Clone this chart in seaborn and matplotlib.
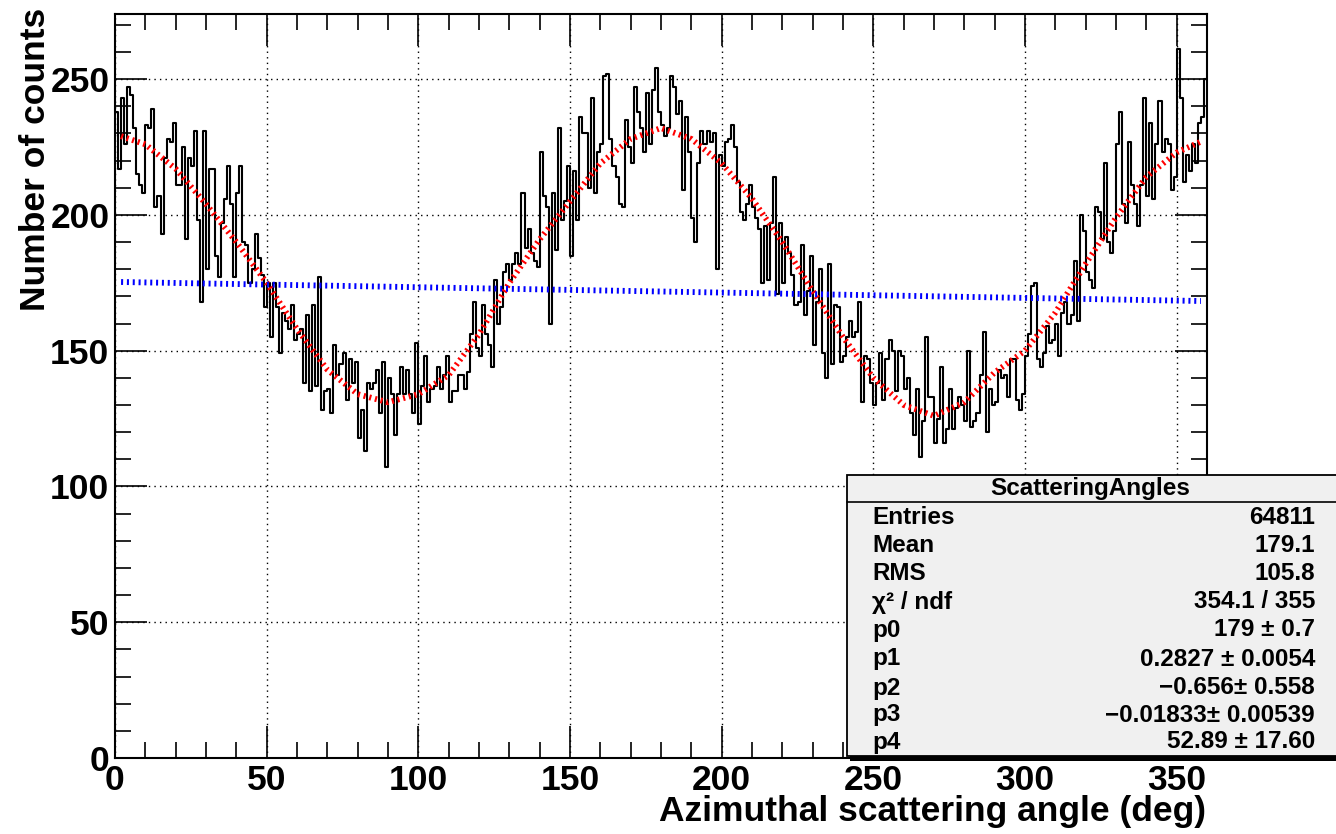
import numpy as np
import pandas as pd
import matplotlib
matplotlib.use("Agg")
import matplotlib.pyplot as plt
from matplotlib.patches import Rectangle
from matplotlib.lines import Line2D
from matplotlib.ticker import MultipleLocator
import seaborn as sns

# ---------------- data ----------------
counts = [
    238, 217, 243, 226, 247, 244, 232, 215, 211, 208,
    233, 232, 239, 203, 207, 193, 221, 228, 227, 234,
    211, 211, 225, 191, 221, 218, 231, 198, 168, 231,
    180, 217, 217, 185, 177, 197, 206, 218, 204, 177,
    208, 218, 190, 189, 175, 180, 193, 184, 178, 166,
    175, 155, 175, 166, 149, 164, 161, 158, 167, 154,
    156, 158, 138, 163, 135, 167, 137, 177, 128, 135,
    136, 127, 152, 141, 145, 149, 132, 147, 138, 146,
    118, 128, 113, 138, 136, 138, 143, 127, 146, 107,
    140, 134, 119, 134, 144, 134, 143, 134, 127, 153,
    123, 137, 148, 131, 136, 137, 144, 136, 141, 148,
    131, 135, 135, 141, 141, 136, 142, 156, 168, 151,
    148, 167, 156, 152, 144, 176, 160, 166, 179, 182,
    176, 182, 186, 182, 208, 188, 195, 186, 183, 181,
    223, 207, 203, 160, 208, 187, 232, 198, 205, 218,
    185, 216, 198, 236, 230, 230, 210, 243, 208, 223,
    226, 251, 252, 228, 218, 214, 204, 203, 235, 225,
    219, 247, 238, 232, 223, 245, 226, 246, 254, 238,
    233, 229, 232, 251, 247, 237, 242, 209, 236, 223,
    199, 190, 219, 231, 226, 231, 227, 230, 180, 222,
    218, 227, 228, 233, 225, 212, 201, 198, 204, 211,
    203, 199, 195, 175, 196, 176, 197, 214, 171, 197,
    175, 192, 186, 178, 167, 168, 189, 163, 172, 185,
    152, 168, 180, 149, 140, 182, 145, 167, 166, 146,
    148, 155, 161, 155, 157, 168, 131, 148, 147, 138,
    130, 138, 149, 132, 147, 154, 150, 135, 150, 148,
    136, 140, 127, 119, 136, 111, 124, 155, 133, 133,
    116, 125, 144, 116, 121, 136, 121, 129, 133, 130,
    124, 150, 122, 124, 127, 141, 157, 120, 136, 130,
    131, 143, 140, 141, 133, 147, 147, 132, 128, 134,
    148, 156, 174, 175, 147, 144, 149, 159, 153, 154,
    160, 148, 164, 168, 160, 163, 183, 161, 200, 194,
    179, 176, 173, 203, 201, 191, 219, 190, 186, 194,
    226, 238, 204, 197, 227, 211, 204, 196, 211, 243,
    207, 234, 206, 226, 242, 223, 228, 226, 209, 214,
    261, 243, 212, 222, 216, 226, 219, 234, 236, 250,
]
bin_lo, bin_hi, bin_w = 0, 360, 1

fit_angle = [2, 10, 20, 30, 40, 50, 60, 70, 80, 90, 100, 110, 120, 130, 140,
             150, 160, 170, 180, 190, 200, 210, 220, 230, 240, 250, 260, 270,
             280, 290, 300, 310, 320, 330, 340, 350, 358]
fit_value = [229, 226, 217, 204, 190, 175, 158, 143, 134, 131, 134, 141, 156,
             175, 191, 205, 219, 228, 232, 228, 219, 206, 190, 172, 155, 140,
             130, 126, 131, 142, 150, 164, 182, 199, 214, 223, 227]

flat_angle = [2, 358]
flat_value = [175.3, 168.3]

stat_labels = ["Entries", "Mean", "RMS", "\u03c7\u00b2 / ndf", "p0", "p1", "p2", "p3", "p4"]
stat_values = ["64811", "179.1", "105.8", "354.1 / 355", "179 \u00b1 0.7",
               "0.2827 \u00b1 0.0054", "\u22120.656\u00b1 0.558",
               "\u22120.01833\u00b1 0.00539", "52.89 \u00b1 17.60"]
stat_title = "ScatteringAngles"

# ---------------- style ----------------
sns.set_theme(style="white")
plt.rcParams["font.family"] = ["Liberation Sans", "DejaVu Sans"]
plt.rcParams["font.weight"] = "bold"
plt.rcParams["text.color"] = "black"
plt.rcParams["axes.labelcolor"] = "black"
plt.rcParams["xtick.color"] = "black"
plt.rcParams["ytick.color"] = "black"

W, H = 1336, 834
fig = plt.figure(figsize=(W / 100, H / 100), dpi=100)
fig.patch.set_facecolor("white")
L, R, T, B = 115, 1207, 14, 758
ax = fig.add_axes([L / W, 1 - B / H, (R - L) / W, (B - T) / H])
ax.set_facecolor("white")

def fx(px):
    return px / W

def fy(py):
    return 1 - py / H

centers = np.arange(bin_lo, bin_hi, bin_w) + bin_w / 2
df = pd.DataFrame({"angle": centers, "n": counts})
sns.histplot(data=df, x="angle", weights="n", binwidth=bin_w,
             binrange=(bin_lo, bin_hi), element="step",
             fill=False, color="black", linewidth=1.5, ax=ax, zorder=3)

dot = (0, (0.35, 0.65))
sns.lineplot(x=fit_angle, y=fit_value, color="#ff0000", linewidth=4.2,
             ax=ax, zorder=4, sort=False)
sns.lineplot(x=flat_angle, y=flat_value, color="#0000ff", linewidth=4.2,
             ax=ax, zorder=4, sort=False)
for ln in ax.lines[-2:]:
    ln.set_linestyle(dot)
    ln.set_dash_capstyle("butt")

ax.set_xlim(0, 360)
ax.set_ylim(0, 274)
ax.xaxis.set_major_locator(MultipleLocator(50))
ax.xaxis.set_minor_locator(MultipleLocator(10))
ax.yaxis.set_major_locator(MultipleLocator(50))
ax.yaxis.set_minor_locator(MultipleLocator(10))
ax.grid(True, which="major", color="black", linestyle=(0, (1, 3)), linewidth=1.0)
ax.set_axisbelow(True)
ax.tick_params(which="both", direction="in", top=True, right=True,
               bottom=True, left=True, colors="black", width=1.2)
ax.tick_params(which="major", length=23, labelsize=25.5)
ax.tick_params(which="minor", length=11.5)
ax.tick_params(axis="x", which="major", pad=4)
ax.tick_params(axis="y", which="major", pad=4)
for lab in ax.get_xticklabels() + ax.get_yticklabels():
    lab.set_fontweight("bold")
for s in ax.spines.values():
    s.set_color("black")
    s.set_linewidth(1.5)
ax.set_xlabel("")
ax.set_ylabel("")

fig.text(fx(1206), fy(812), "Azimuthal scattering angle (deg)", ha="right",
         va="center", fontsize=25.5, fontweight="bold", color="black")
fig.text(fx(36), fy(8), "Number of counts", ha="center", va="top",
         rotation=90, fontsize=25.5, fontweight="bold", color="black")

# ---------------- stats box ----------------
bx0, by0, bx1, by1 = 847, 475, 1340, 756
fig.patches.append(Rectangle((fx(bx0 + 3), fy(by1 + 5)), fx(bx1) - fx(bx0),
                             fy(by0) - fy(by1), transform=fig.transFigure,
                             facecolor="black", edgecolor="none", zorder=10))
fig.patches.append(Rectangle((fx(bx0), fy(by1)), fx(bx1) - fx(bx0),
                             fy(by0) - fy(by1), transform=fig.transFigure,
                             facecolor="#f0f0f0", edgecolor="black",
                             linewidth=1.3, zorder=11))
fig.lines.append(Line2D([fx(bx0), fx(bx1)], [fy(502), fy(502)],
                        transform=fig.transFigure, color="black",
                        linewidth=1.2, zorder=12))
fig.text(fx(1090), fy(489), stat_title, ha="center", va="center",
         fontsize=17.5, fontweight="bold", color="black", zorder=13)
row_y = [518, 546, 574, 602, 630, 659, 688, 715, 742]
for lab, val, yy in zip(stat_labels, stat_values, row_y):
    fig.text(fx(872), fy(yy), lab, ha="left", va="center", fontsize=17.5,
             fontweight="bold", color="black", zorder=13)
    fig.text(fx(1315), fy(yy), val, ha="right", va="center", fontsize=17.5,
             fontweight="bold", color="black", zorder=13)

fig.savefig("out.png", dpi=100)
